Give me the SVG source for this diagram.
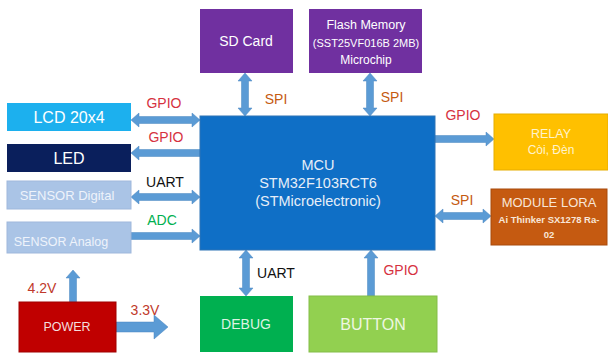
<svg xmlns="http://www.w3.org/2000/svg" width="608" height="355" viewBox="0 0 608 355">
<style>
text{font-family:"Liberation Sans",Arial,sans-serif;text-anchor:middle}
.ar{fill:#5b9bd5;stroke:#4a86c0;stroke-width:0.5}
.lbl{font-size:14px}
.red{fill:#d6323f}
.org{fill:#c55a11}
.blk{fill:#111}
.grn{fill:#00b050}
.wt{fill:#ffffff}
</style>
<rect width="608" height="355" fill="#ffffff"/>
<g id="connectors">
<polygon class="ar" points="131,120 139,113 139,116.5 192,116.5 192,113 200,120 192,127 192,123.5 139,123.5 139,127"/>
<polygon class="ar" points="131,153 139,146 139,149.5 200,149.5 200,156.5 139,156.5 139,160"/>
<polygon class="ar" points="131,197 139,190 139,193.5 192,193.5 192,190 200,197 192,204 192,200.5 139,200.5 139,204"/>
<polygon class="ar" points="131,232.5 192,232.5 192,229 200,236 192,243 192,239.5 131,239.5"/>
<polygon class="ar" points="435,135.5 486,135.5 486,132 494,139 486,146 486,142.5 435,142.5"/>
<polygon class="ar" points="435,216 443,209 443,212.5 483,212.5 483,209 491,216 483,223 483,219.5 443,219.5 443,223"/>
<polygon class="ar" points="245,73 252,81 248.5,81 248.5,108 252,108 245,116 238,108 241.5,108 241.5,81 238,81"/>
<polygon class="ar" points="370,73 377,81 373.5,81 373.5,108 377,108 370,116 363,108 366.5,108 366.5,81 363,81"/>
<polygon class="ar" points="246,250 253,258 249.5,258 249.5,288 253,288 246,296 239,288 242.5,288 242.5,258 239,258"/>
<polygon class="ar" points="371,250 378,258 374.5,258 374.5,296 367.5,296 367.5,258 364,258"/>
<polygon class="ar" points="73,270 80,278 76.5,278 76.5,302 69.5,302 69.5,278 66,278"/>
<polygon class="ar" points="116,322 154,322 154,315 168,327 154,339 154,332 116,332"/>
<text class="lbl red" x="164" y="108">GPIO</text>
<text class="lbl red" x="166" y="142">GPIO</text>
<text class="lbl blk" x="165" y="187">UART</text>
<text class="lbl grn" x="162" y="225">ADC</text>
<text class="lbl org" x="276" y="104">SPI</text>
<text class="lbl org" x="392" y="102">SPI</text>
<text class="lbl red" x="463" y="120">GPIO</text>
<text class="lbl org" x="462" y="205">SPI</text>
<text class="lbl blk" x="276" y="278">UART</text>
<text class="lbl red" x="401" y="275">GPIO</text>
<text class="lbl" font-size="15" fill="#c0392b" x="42" y="293">4.2V</text>
<text class="lbl" font-size="15" fill="#c0392b" x="145" y="315">3.3V</text>
</g>
<g id="mcu">
<rect x="200" y="116" width="235" height="134" fill="#0f6fc6" stroke="#2e75b6" stroke-width="1"/>
<text x="318" y="170" font-size="14.5" fill="#e6eef8">MCU</text>
<text x="318" y="188" font-size="14.5" fill="#e6eef8">STM32F103RCT6</text>
<text x="318" y="206" font-size="14.5" fill="#e6eef8">(STMicroelectronic)</text>
</g>
<g id="sdcard">
<rect x="200" y="9" width="93" height="64" fill="#7030a0"/>
<text class="wt" x="246" y="46" font-size="14">SD Card</text>
</g>
<g id="flash">
<rect x="309" y="9" width="113" height="64" fill="#7030a0"/>
<text class="wt" x="366" y="29" font-size="12.5">Flash Memory</text>
<text class="wt" x="366" y="47" font-size="11">(SST25VF016B 2MB)</text>
<text class="wt" x="366" y="64" font-size="12">Microchip</text>
</g>
<g id="lcd">
<rect x="7" y="103" width="124" height="28" fill="#1cb0ee"/>
<text class="wt" x="69" y="123" font-size="16">LCD 20x4</text>
</g>
<g id="led">
<rect x="7" y="144" width="124" height="28" fill="#0a1f5c"/>
<text class="wt" x="69" y="164" font-size="16">LED</text>
</g>
<g id="sensor-digital">
<rect x="7" y="181" width="124" height="28" fill="#aac4e6" stroke="#9fb8dc" stroke-width="1"/>
<text x="67" y="200" font-size="13" fill="#eef3fb">SENSOR Digital</text>
</g>
<g id="sensor-analog">
<rect x="7" y="222" width="124" height="31" fill="#aac4e6" stroke="#9fb8dc" stroke-width="1"/>
<text x="61" y="246" font-size="12.5" fill="#eef3fb">SENSOR Analog</text>
</g>
<g id="power">
<rect x="19" y="302" width="97" height="50" fill="#c00000" stroke="#a00000" stroke-width="1"/>
<text x="67" y="331" font-size="12.5" fill="#f4dede">POWER</text>
</g>
<g id="debug">
<rect x="200" y="296" width="93" height="56" fill="#00b050"/>
<text x="246" y="329" font-size="14" fill="#dcf3e2">DEBUG</text>
</g>
<g id="button">
<rect x="309" y="296" width="128" height="56" fill="#92d050" stroke="#84bd48" stroke-width="1"/>
<text x="373" y="330" font-size="16" fill="#eef7e2">BUTTON</text>
</g>
<g id="relay">
<rect x="494" y="114" width="114" height="56" fill="#ffc000" stroke="#e6ad00" stroke-width="1"/>
<text x="551" y="138" font-size="12.5" fill="#fff3cc">RELAY</text>
<text x="551" y="154" font-size="12" fill="#fff3cc">Còi, Đèn</text>
</g>
<g id="lora">
<rect x="491" y="189" width="116" height="56" fill="#c55a11" stroke="#a84a0c" stroke-width="1"/>
<text x="549" y="207" font-size="13" fill="#f8e6d8">MODULE LORA</text>
<text x="549" y="223" font-size="9.5" font-weight="bold" fill="#f8e6d8">Ai Thinker SX1278 Ra-</text>
<text x="549" y="238" font-size="9.5" font-weight="bold" fill="#f8e6d8">02</text>
</g>
</svg>
